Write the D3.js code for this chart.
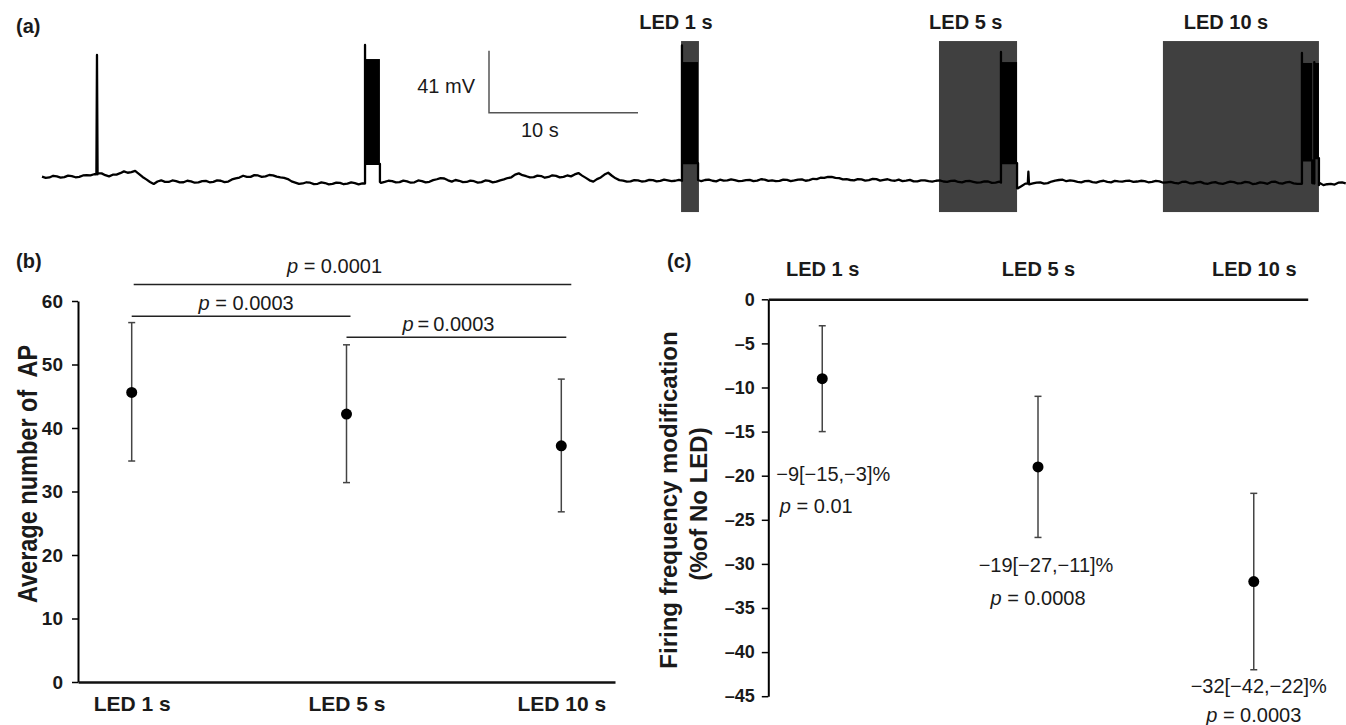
<!DOCTYPE html>
<html><head><meta charset="utf-8">
<script src="https://cdn.jsdelivr.net/npm/d3@7"></script>
<style>
body{margin:0;background:#fff;}
svg{display:block;font-family:"Liberation Sans",Arial,Helvetica,sans-serif;}
</style></head><body>
<svg id="chart" width="1346" height="725"></svg>
<script>
// ================= DATA =================
// Panel (a): membrane potential trace (mV), baseline sampled every 0.5 s (t = 0, 0.5, ...)
const traceStep = 0.5;
const traceBaseline = [
 -57.8,-58.3,-57.6,-58.1,-57.4,-57.9,-56.8,-56.2,-55.6,-57.6,
 -56.4,-54.3,-54.8,-55.9,-59.6,-62.6,-60.2,-61.3,-60.7,-61.5,
 -60.9,-61.6,-60.6,-61.2,-60.5,-61.0,-58.9,-57.2,-57.9,-57.0,
 -57.6,-56.9,-58.3,-59.4,-61.7,-62.3,-61.8,-62.5,-62.0,-62.6,
 -61.9,-62.4,-62.1,-62.3,-62.0,-61.5,-61.3,-60.8,-61.4,-60.9,
 -61.5,-60.7,-61.2,-59.5,-59.0,-61.1,-60.5,-61.3,-60.8,-61.4,
 -60.6,-61.1,-59.6,-58.2,-55.6,-57.5,-58.1,-57.4,-58.0,-57.3,
 -57.9,-57.6,-55.4,-58.6,-61.1,-58.3,-55.2,-58.9,-60.4,-60.9,
 -60.2,-60.7,-60.1,-60.6,-60.3,-60.5,-60.2,-60.2,-60.4,-60.0,
 -60.5,-59.8,-60.3,-60.1,-60.6,-59.9,-60.4,-59.7,-60.2,-60.6,
 -59.9,-60.3,-59.6,-60.1,-59.4,-58.6,-57.9,-58.8,-59.5,-60.2,
 -59.6,-60.1,-59.4,-59.9,-60.3,-59.8,-60.4,-60.9,-60.3,-60.8,
 -60.5,-61.0,-60.6,-61.3,-60.8,-61.2,-61.6,-61.0,-61.7,-61.5,
 -61.8,-65.5,-62.4,-62.3,-61.6,-62.1,-60.4,-59.8,-60.3,-61.2,
 -60.8,-61.4,-60.9,-61.3,-60.6,-61.1,-60.5,-61.0,-60.7,-61.2,
 -60.9,-61.5,-61.9,-61.3,-62.0,-61.6,-62.2,-61.7,-62.3,-61.8,
 -61.4,-62.1,-61.5,-62.4,-61.9,-61.3,-62.0,-61.6,-62.2,-62.5,
 -62.3,-62.0,-63.4,-62.6,-61.8,-62.3
];
// intermediate samples (t = 0.25, 0.75, ...) carrying the recording noise
const traceMid = [
 -58.6,-57.2,-58.4,-57.1,-58.2,-57.0,-56.9,-55.4,-56.8,-56.5,
 -55.5,-55.2,-54.0,-58.0,-61.3,-61.0,-61.2,-60.3,-61.6,-60.5,
 -61.8,-60.8,-61.5,-60.3,-61.4,-59.6,-58.4,-57.9,-56.8,-57.9,
 -56.7,-57.8,-58.6,-60.9,-62.6,-61.5,-62.7,-61.6,-62.9,-61.7,
 -62.8,-61.6,-62.9,-61.7,-61.9,-61.9,-60.5,-61.6,-60.4,-61.8,
 -60.3,-61.6,-60.1,-58.7,-60.2,-60.0,-61.4,-60.4,-61.7,-60.3,
 -61.6,-60.2,-58.7,-56.4,-56.8,-58.3,-57.1,-58.5,-56.9,-58.3,
 -57.0,-56.3,-57.1,-60.2,-59.4,-56.4,-57.2,-60.1,-61.1,-60.1,
 -61.0,-59.9,-60.9,-59.8,-60.8,-59.9,-60.6,-59.8,-60.8,-59.7,
 -60.9,-60.4,-59.6,-60.8,-60.1,-60.7,-59.5,-60.6,-60.8,-59.7,
 -60.7,-59.7,-60.5,-59.2,-58.5,-58.0,-58.6,-59.6,-60.0,-59.4,
 -60.4,-59.3,-60.4,-59.5,-60.5,-60.7,-59.9,-60.9,-60.2,-61.1,
 -60.3,-61.2,-60.4,-61.6,-60.6,-61.8,-60.9,-61.9,-61.1,-61.9,
 -61.7,-64.0,-62.9,-61.7,-62.4,-61.0,-60.0,-60.8,-60.6,-61.6,
 -60.6,-61.7,-60.5,-61.6,-60.9,-60.6,-61.3,-60.5,-61.5,-60.6,
 -61.8,-61.2,-62.3,-61.1,-62.3,-61.2,-62.5,-61.4,-62.6,-61.1,
 -62.3,-61.2,-62.7,-61.6,-62.5,-61.1,-62.4,-61.3,-62.6,-62.1,
 -62.6,-61.9,-62.8,-63.0,-61.6
];
// isolated spikes (time s, peak mV)
const spikeTime = [3.69, 66.2];
const spikePeak = [22.7, -54.5];
// bursts of action potentials (time s, mV envelope)
const burstStart  = [21.68, 42.95, 64.36, 84.56, 85.39];
const burstEnd    = [22.68, 44.03, 65.44, 85.25, 85.70];
const burstPeak   = [29.3, 29.0, 24.7, 24.0, 18.0];
const burstTop    = [20.0, 18.0, 18.0, 17.4, 17.4];
const burstBottom = [-49.4, -48.8, -48.8, -47.0, -45.5];
// LED illumination periods (s)
const ledLabels = ["LED 1 s", "LED 5 s", "LED 10 s"];
const ledStart  = [42.89, 60.20, 75.23];
const ledEnd    = [44.09, 65.44, 85.70];
const ledLabelT = [42.55, 62.0, 79.46];
// scale bar: 10 s, 41 mV
const scaleBarT = [30, 40];
const scaleBarV = [-15.5, 25.5];

// Panel (b): average number of AP
const categories = ["LED 1 s", "LED 5 s", "LED 10 s"];
const apMean = [45.6, 42.2, 37.2];
const apLow  = [34.8, 31.4, 26.8];
const apHigh = [56.6, 53.1, 47.7];
const apTicks = [0, 10, 20, 30, 40, 50, 60];
const sigFrom = [0, 0, 1];
const sigTo   = [2, 1, 2];
const sigP    = ["0.0001", "0.0003", "0.0003"];
const sigLevel = [62.6, 57.6, 54.3];

// Panel (c): firing frequency modification (% of No LED)
const modMean = [-9, -19, -32];
const modLow  = [-15, -27, -42];
const modHigh = [-3, -11, -22];
const modText = ["\u22129[\u221215,\u22123]%", "\u221219[\u221227,\u221211]%", "\u221232[\u221242,\u221222]%"];
const modP    = ["0.01", "0.0008", "0.0003"];
const modTicks = [0, -5, -10, -15, -20, -25, -30, -35, -40, -45];

// ================= LAYOUT =================
const ink = "#1a1a1a";
const svg = d3.select("#chart");

// ---------- Panel (a) ----------
const xa = d3.scaleLinear().domain([0, 87.5]).range([42, 1345.75]);
const ya = d3.scaleLinear().domain([-90, 40]).range([225.36, 28.8]);
const ledV = [-81.2, 31.9];

const gA = svg.append("g");
gA.selectAll("rect.led").data(ledStart).join("rect")
  .attr("class", "led")
  .attr("x", (d) => xa(d))
  .attr("width", (d, i) => xa(ledEnd[i]) - xa(d))
  .attr("y", ya(ledV[1]))
  .attr("height", ya(ledV[0]) - ya(ledV[1]))
  .attr("fill", "#404040");

gA.selectAll("text.ledlab").data(ledLabels).join("text")
  .attr("x", (d, i) => xa(ledLabelT[i]))
  .attr("y", 29)
  .attr("text-anchor", "middle")
  .attr("font-weight", "bold").attr("font-size", 20).attr("fill", ink)
  .text((d) => d);

// build trace
const inBurst = (t) => burstStart.some((s, i) => t >= s && t <= burstEnd[i]);
let seq = 0;
const pts = [];
traceBaseline.forEach((v, i) => {
  const t = i * traceStep;
  if (!inBurst(t)) pts.push({ t, v, k: seq++ });
});
traceMid.forEach((v, i) => {
  const t = i * traceStep + traceStep / 2;
  if (!inBurst(t)) pts.push({ t, v, k: seq++ });
});
const baseAt = (t) => traceBaseline[Math.max(0, Math.min(traceBaseline.length - 1, Math.round(t / traceStep)))];
spikeTime.forEach((t, i) => {
  const b = baseAt(t);
  pts.push({ t: t - 0.04, v: b, k: seq++ });
  pts.push({ t: t, v: spikePeak[i], k: seq++ });
  pts.push({ t: t + 0.04, v: b, k: seq++ });
});
burstStart.forEach((s, i) => {
  const e = burstEnd[i];
  const bs = traceBaseline[Math.floor(s / traceStep)];
  const be = traceBaseline[Math.min(traceBaseline.length - 1, Math.ceil(e / traceStep))];
  pts.push({ t: s, v: bs, k: seq++ });
  pts.push({ t: s, v: burstPeak[i], k: seq++ });
  pts.push({ t: s + 0.01, v: burstBottom[i], k: seq++ });
  pts.push({ t: e, v: burstBottom[i], k: seq++ });
  pts.push({ t: e, v: be, k: seq++ });
});
pts.sort((a, b) => a.t - b.t || a.k - b.k);

gA.selectAll("rect.burst").data(burstStart).join("rect")
  .attr("class", "burst")
  .attr("x", (d) => xa(d))
  .attr("width", (d, i) => xa(burstEnd[i]) - xa(d))
  .attr("y", (d, i) => ya(burstTop[i]))
  .attr("height", (d, i) => ya(burstBottom[i]) - ya(burstTop[i]))
  .attr("fill", "#000");

gA.append("path").datum(pts)
  .attr("d", d3.line().x((d) => xa(d.t)).y((d) => ya(d.v)))
  .attr("fill", "none").attr("stroke", "#000").attr("stroke-width", 2.3)
  .attr("stroke-linejoin", "round");

// scale bar
gA.append("path")
  .attr("d", `M${xa(scaleBarT[0])},${ya(scaleBarV[1])}V${ya(scaleBarV[0])}H${xa(scaleBarT[1])}`)
  .attr("fill", "none").attr("stroke", "#555").attr("stroke-width", 1.5);
gA.append("text").attr("x", xa(scaleBarT[0]) - 14).attr("y", 93)
  .attr("text-anchor", "end").attr("font-size", 20).attr("fill", ink)
  .text((scaleBarV[1] - scaleBarV[0]) + " mV");
gA.append("text").attr("x", xa(scaleBarT[0]) + 32).attr("y", 137)
  .attr("font-size", 20).attr("fill", ink)
  .text((scaleBarT[1] - scaleBarT[0]) + " s");

svg.append("text").attr("x", 16).attr("y", 33).attr("font-weight", "bold")
  .attr("font-size", 20).attr("fill", ink).text("(a)");

// ---------- Panel (b) ----------
const xb = d3.scalePoint().domain(categories).range([78, 615]).padding(0.25);
const yb = d3.scaleLinear().domain([0, 60]).range([682, 301]);

svg.append("text").attr("x", 16).attr("y", 268).attr("font-weight", "bold")
  .attr("font-size", 20).attr("fill", ink).text("(b)");

const gyb = svg.append("g").attr("transform", "translate(78,0)")
  .call(d3.axisLeft(yb).tickValues(apTicks).tickSize(6).tickSizeOuter(0).tickPadding(9));
gyb.select(".domain").attr("stroke", "#000").attr("stroke-width", 2);
gyb.selectAll(".tick line").attr("stroke", "#000").attr("stroke-width", 1.5);
gyb.selectAll(".tick text").attr("font-size", 19).attr("font-weight", "bold")
  .attr("font-family", '"Liberation Sans",Arial,sans-serif').attr("fill", ink);

const gxb = svg.append("g").attr("transform", "translate(0,682)")
  .call(d3.axisBottom(xb).tickSize(0).tickSizeOuter(0).tickPadding(14));
gxb.select(".domain").attr("stroke", "#111").attr("stroke-width", 2.5);
gxb.selectAll(".tick text").attr("font-size", 21).attr("font-weight", "bold")
  .attr("font-family", '"Liberation Sans",Arial,sans-serif').attr("fill", ink);

svg.append("text")
  .attr("transform", "translate(37,474) rotate(-90) scale(0.84,1)")
  .attr("text-anchor", "middle").attr("font-weight", "bold").attr("font-size", 28)
  .attr("fill", ink).style("white-space", "pre")
  .text("Average number of  AP");

function errorBars(g, xs, ys, mean, lo, hi) {
  const eg = g.append("g");
  categories.forEach((c, i) => {
    const x = xs(c);
    eg.append("line").attr("x1", x).attr("x2", x).attr("y1", ys(lo[i])).attr("y2", ys(hi[i]))
      .attr("stroke", "#444").attr("stroke-width", 1.5);
    [lo[i], hi[i]].forEach((v) => {
      eg.append("line").attr("x1", x - 3.5).attr("x2", x + 3.5).attr("y1", ys(v)).attr("y2", ys(v))
        .attr("stroke", "#444").attr("stroke-width", 1.5);
    });
  });
  eg.selectAll("circle").data(mean).join("circle")
    .attr("cx", (d, i) => xs(categories[i])).attr("cy", (d) => ys(d))
    .attr("r", 5.5).attr("fill", "#000");
}
errorBars(svg, xb, yb, apMean, apLow, apHigh);

// significance brackets
const sigExt = [[2, 10], [0, 4], [0, 5]];
const sigTextDx = [-18, 5, -8];
const sigGap = [11, 6, 6];
sigP.forEach((p, i) => {
  const x1 = xb(categories[sigFrom[i]]) + sigExt[i][0];
  const x2 = xb(categories[sigTo[i]]) + sigExt[i][1];
  const y = yb(sigLevel[i]);
  svg.append("line").attr("x1", x1).attr("x2", x2).attr("y1", y).attr("y2", y)
    .attr("stroke", "#222").attr("stroke-width", 1.5);
  const t = svg.append("text").attr("x", (x1 + x2) / 2 + sigTextDx[i]).attr("y", y - sigGap[i])
    .attr("text-anchor", "middle").attr("font-size", 20).attr("fill", ink);
  t.append("tspan").attr("font-style", "italic").text("p");
  t.append("tspan").text(i === 2 ? "\u2009=\u2009" + p : " = " + p);
});

// ---------- Panel (c) ----------
const xc = d3.scalePoint().domain(categories).range([768.3, 1307.7]).padding(0.25);
const yc = d3.scaleLinear().domain([-45, 0]).range([696.2, 299.3]);

svg.append("text").attr("x", 667).attr("y", 268).attr("font-weight", "bold")
  .attr("font-size", 20).attr("fill", ink).text("(c)");

const gyc = svg.append("g").attr("transform", "translate(768.3,0)")
  .call(d3.axisLeft(yc).tickValues(modTicks).tickSize(6.5).tickSizeOuter(0).tickPadding(7)
    .tickFormat((d) => (d === 0 ? "0" : "\u2013" + Math.abs(d))));
gyc.select(".domain").attr("stroke", "#000").attr("stroke-width", 2);
gyc.selectAll(".tick line").attr("stroke", "#000").attr("stroke-width", 1.5);
gyc.selectAll(".tick text").attr("font-size", 18).attr("font-weight", "bold")
  .attr("font-family", '"Liberation Sans",Arial,sans-serif').attr("fill", ink);

const gxc = svg.append("g").attr("transform", `translate(0,${yc(0)})`)
  .call(d3.axisTop(xc).tickSize(0).tickSizeOuter(0).tickPadding(23));
gxc.select(".domain").attr("stroke", "#111").attr("stroke-width", 2.5);
gxc.selectAll(".tick text").attr("font-size", 20).attr("font-weight", "bold")
  .attr("font-family", '"Liberation Sans",Arial,sans-serif').attr("fill", ink);

svg.append("text").attr("transform", "translate(677,500) rotate(-90)")
  .attr("text-anchor", "middle").attr("font-weight", "bold").attr("font-size", 24)
  .attr("fill", ink).text("Firing frequency modification");
svg.append("text").attr("transform", "translate(707,504) rotate(-90)")
  .attr("text-anchor", "middle").attr("font-weight", "bold").attr("font-size", 24)
  .attr("fill", ink).text("(%of No LED)");

errorBars(svg, xc, yc, modMean, modLow, modHigh);

const annDx = [11, 8, 5], annY = [481, 571.7, 693.3];
const pDx = [-6, 0, 0], pY = [513, 605, 721.7];
modText.forEach((s, i) => {
  const x = xc(categories[i]);
  svg.append("text").attr("x", x + annDx[i]).attr("y", annY[i]).attr("text-anchor", "middle")
    .attr("font-size", 20).attr("fill", ink).text(s);
  const t = svg.append("text").attr("x", x + pDx[i]).attr("y", pY[i]).attr("text-anchor", "middle")
    .attr("font-size", 20).attr("fill", ink);
  t.append("tspan").attr("font-style", "italic").text("p");
  t.append("tspan").text(" = " + modP[i]);
});
</script>
</body></html>
